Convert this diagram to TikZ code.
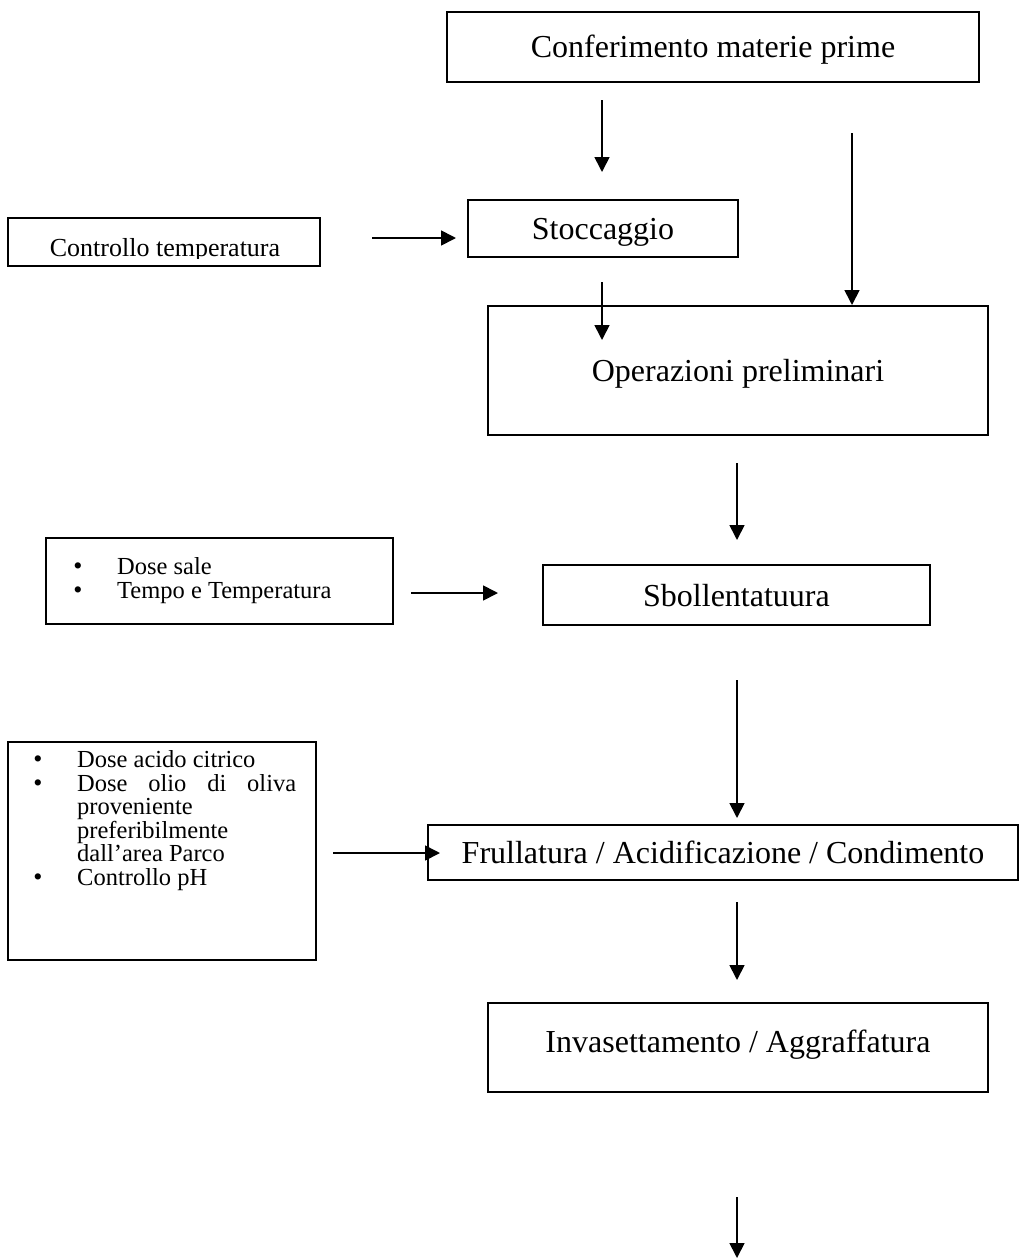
\documentclass[tikz,border=0pt]{standalone}
\usepackage{fontspec}
\setmainfont{Liberation Serif}
\usetikzlibrary{arrows.meta}
\begin{document}
\begin{tikzpicture}[x=1pt,y=-1pt,
  box/.style={draw, line width=1.7pt, inner sep=0pt},
  arr/.style={line width=1.7pt, -{Triangle[length=15pt,width=15pt]}},
  big/.style={font=\fontsize{32}{38}\selectfont, inner sep=0pt, anchor=base},
  small/.style={font=\fontsize{24.5}{28}\selectfont, inner sep=0pt, anchor=base west},
  bul/.style={font=\fontsize{26}{28}\selectfont, inner sep=0pt, anchor=base},
  ctrlfont/.style={font=\fontsize{26}{30}\selectfont, inner sep=0pt, anchor=base}]
\useasboundingbox (0,0) rectangle (1034,1258);

% main process steps: frames and their labels
\node[box, minimum width=532pt, minimum height=70pt] (conf) at (713,47) {};
\node[big] (conftext) at (713,57) {Conferimento materie prime};
\node[box, minimum width=270pt, minimum height=57pt] (stocc) at (603,228.5) {};
\node[big] (stocctext) at (603,239) {Stoccaggio};
\node[box, minimum width=500pt, minimum height=129pt] (oper) at (738,370.5) {};
\node[big] (opertext) at (738,381) {Operazioni preliminari};
\node[box, minimum width=387pt, minimum height=60pt] (sboll) at (736.5,595) {};
\node[big] (sbolltext) at (736.5,606) {Sbollentatuura};
\node[box, minimum width=590pt, minimum height=55pt] (frull) at (723,852.5) {};
\node[big] (frulltext) at (723,863) {Frullatura / Acidificazione / Condimento};
\node[box, minimum width=500pt, minimum height=89pt] (invas) at (738,1047.5) {};
\node[big] (invastext) at (738,1052) {Invasettamento / Aggraffatura};

% temperature control box (text clipped by the frame margin)
\node[box, minimum width=312pt, minimum height=48pt] (ctrl) at (164,242) {};
\begin{scope}
  \clip (10,220) rectangle (318,258);
  \node[ctrlfont] (ctrltext) at (165,256) {Controllo temperatura};
\end{scope}

% blanching parameters
\node[box, minimum width=347pt, minimum height=86pt] (salebox) at (219.5,581) {};
\node[bul] (b1) at (78,574) {\textbullet};
\node[small] (t1) at (117,574) {Dose sale};
\node[bul] (b2) at (78,598) {\textbullet};
\node[small] (t2) at (117,598) {Tempo e Temperatura};

% acidification / seasoning parameters
\node[box, minimum width=308pt, minimum height=218pt] (acbox) at (162,851) {};
\node[bul] (c1) at (38,767) {\textbullet};
\node[small] (d1) at (77,767) {Dose acido citrico};
\node[bul] (c2) at (38,791) {\textbullet};
\node[small] (d2) at (77,791) {\makebox[219pt][s]{Dose olio di oliva}};
\node[small] (d3) at (77,814.5) {proveniente};
\node[small] (d4) at (77,838) {preferibilmente};
\node[small] (d5) at (77,861.5) {dall’area Parco};
\node[bul] (c3) at (38,885) {\textbullet};
\node[small] (d6) at (77,885) {Controllo pH};

% arrow end points
\coordinate (p1a) at (602,100);  \coordinate (p1b) at (602,172);
\coordinate (p2a) at (852,133);  \coordinate (p2b) at (852,305);
\coordinate (p3a) at (372,238);  \coordinate (p3b) at (456,238);
\coordinate (p4a) at (602,282);  \coordinate (p4b) at (602,340);
\coordinate (p5a) at (737,463);  \coordinate (p5b) at (737,540);
\coordinate (p6a) at (411,593);  \coordinate (p6b) at (498,593);
\coordinate (p7a) at (737,680);  \coordinate (p7b) at (737,818);
\coordinate (p8a) at (333,853);  \coordinate (p8b) at (440,853);
\coordinate (p9a) at (737,902);  \coordinate (p9b) at (737,980);
\coordinate (p10a) at (737,1197); \coordinate (p10b) at (737,1258);

\draw[arr] (p1a) -- (p1b);
\draw[arr] (p2a) -- (p2b);
\draw[arr] (p3a) -- (p3b);
\draw[arr] (p4a) -- (p4b);
\draw[arr] (p5a) -- (p5b);
\draw[arr] (p6a) -- (p6b);
\draw[arr] (p7a) -- (p7b);
\draw[arr] (p8a) -- (p8b);
\draw[arr] (p9a) -- (p9b);
\draw[arr] (p10a) -- (p10b);
\end{tikzpicture}
\end{document}
